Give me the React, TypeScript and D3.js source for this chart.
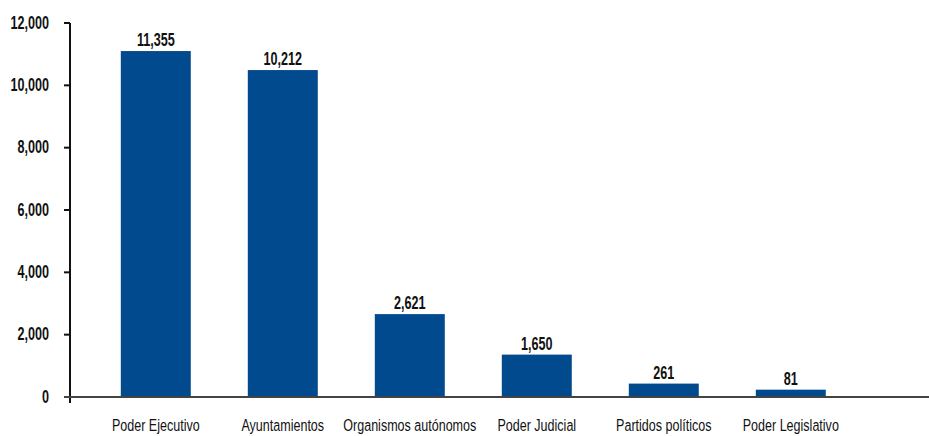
import React, { useEffect, useRef } from 'react';
import * as d3 from 'd3';

// categories and values
const categories = [
    "Poder Ejecutivo",
    "Ayuntamientos",
    "Organismos autónomos",
    "Poder Judicial",
    "Partidos políticos",
    "Poder Legislativo",
];
// bar heights as drawn (they do not quite follow the printed labels)
const barValues = [11100, 10490, 2660, 1360, 430, 235];
const valueLabels = ["11,355", "10,212", "2,621", "1,650", "261", "81"];
const yTicks = [0, 2000, 4000, 6000, 8000, 10000, 12000];

const App: React.FC = () => {
    const svgRef = useRef<SVGSVGElement | null>(null);

    useEffect(() => {
        if (!svgRef.current) return;
        const width = 929;
        const font = "'Liberation Sans', Arial, sans-serif";
        const barColor = "#024a8e";
        const squeeze = 0.7; // the original uses a condensed face

        const svg = d3.select(svgRef.current);
        svg.selectAll("*").remove();

        const x0 = 70;
        const step = 127;
        const padInner = 0.449;
        const padOuter = 0.4;
        const x1 = x0 + step * (categories.length - padInner + 2 * padOuter);

        const xScale = d3.scaleBand<string>()
            .domain(categories)
            .range([x0, x1])
            .paddingInner(padInner)
            .paddingOuter(padOuter);

        const yScale = d3.scaleLinear()
            .domain([0, 12000])
            .range([397, 23]);

        // bars
        svg.append("g")
            .selectAll("rect")
            .data(categories)
            .join("rect")
            .attr("x", d => xScale(d)!)
            .attr("y", (d, i) => yScale(barValues[i]))
            .attr("width", xScale.bandwidth())
            .attr("height", (d, i) => yScale(0) - yScale(barValues[i]))
            .attr("fill", barColor);

        // value labels
        svg.append("g")
            .selectAll("text")
            .data(categories)
            .join("text")
            .attr("transform", (d, i) => `translate(${xScale(d)! + xScale.bandwidth() / 2},${yScale(barValues[i]) - 5}) scale(${squeeze},1)`)
            .attr("text-anchor", "middle")
            .style("font-family", font)
            .style("font-weight", "bold")
            .style("font-size", "18px")
            .attr("fill", "#111")
            .text((d, i) => valueLabels[i]);

        // y axis
        const yAxis = svg.append("g");
        yAxis.append("line")
            .attr("x1", x0).attr("x2", x0)
            .attr("y1", yScale(12000)).attr("y2", 403)
            .attr("stroke", "#111").attr("stroke-width", 2);
        yAxis.selectAll("line.tick")
            .data(yTicks)
            .join("line")
            .attr("class", "tick")
            .attr("x1", x0 - 6).attr("x2", x0)
            .attr("y1", d => yScale(d)).attr("y2", d => yScale(d))
            .attr("stroke", "#111").attr("stroke-width", 2);
        yAxis.selectAll("text")
            .data(yTicks)
            .join("text")
            .attr("transform", d => `translate(49,${yScale(d)}) scale(${squeeze},1)`)
            .attr("dy", "0.32em")
            .attr("text-anchor", "end")
            .style("font-family", font)
            .style("font-weight", "bold")
            .style("font-size", "18px")
            .attr("fill", "#111")
            .text(d => d3.format(",")(d));

        // x axis baseline
        svg.append("line")
            .attr("x1", x0 - 6).attr("x2", width)
            .attr("y1", yScale(0)).attr("y2", yScale(0))
            .attr("stroke", "#444").attr("stroke-width", 2);

        // category labels
        svg.append("g")
            .selectAll("text")
            .data(categories)
            .join("text")
            .attr("transform", d => `translate(${xScale(d)! + xScale.bandwidth() / 2},431) scale(0.76,1)`)
            .attr("text-anchor", "middle")
            .style("font-family", font)
            .style("font-size", "16.5px")
            .attr("fill", "#111")
            .text(d => d);
    }, []);

    return (
        <div>
            <svg ref={svgRef} width={929} height={436} style={{ display: "block", position: "absolute", left: 0, top: 0, background: "#fff" }}></svg>
        </div>
    );
};

export default App;
